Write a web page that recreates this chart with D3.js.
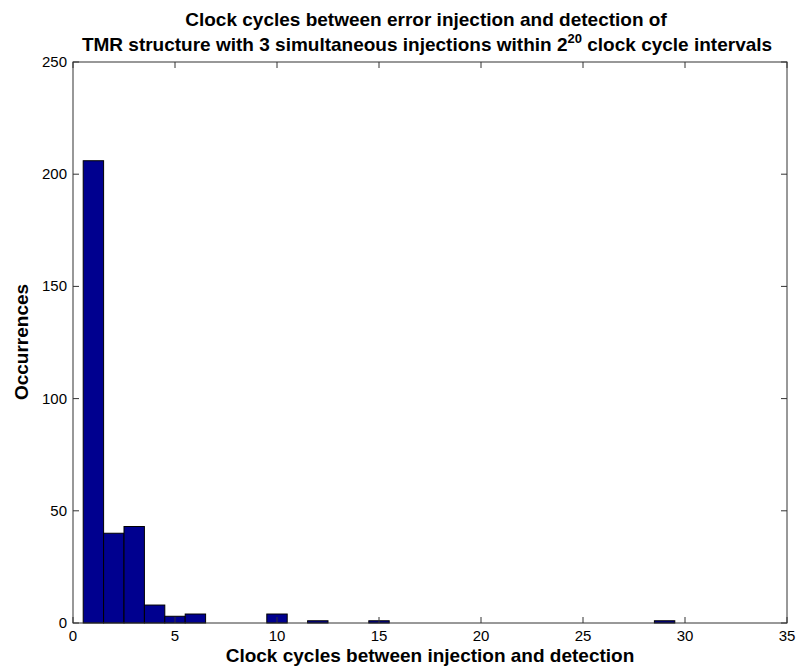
<!DOCTYPE html>
<html lang="en">
<head>
    <meta charset="UTF-8">
    <title>Clock cycles histogram</title>
    <script src="https://d3js.org/d3.v7.min.js" charset="utf-8"></script>
    <style>
        body {
            margin: 0;
            background: white;
            font-family: "Liberation Sans", Arial, sans-serif;
        }
    </style>
</head>
<body>
    <script>
        // histogram counts, one bin per clock cycle value
        var binCenters = [1, 2, 3, 4, 5, 6, 10, 12, 15, 29];
        var counts = [206, 40, 43, 8, 3, 4, 4, 1, 1, 1];
        var xTicks = [0, 5, 10, 15, 20, 25, 30, 35];
        var yTicks = [0, 50, 100, 150, 200, 250];

        var width = 797;
        var height = 671;
        // plot box edges (avoid the name "top", it is window.top)
        var plotL = 73, plotR = 787, plotT = 62, plotB = 623;
        var tickLen = 6;

        var svg = d3.select("body")
                    .append("svg")
                    .attr("width", width)
                    .attr("height", height);

        var x = d3.scaleLinear().domain([0, 35]).range([plotL, plotR]);
        var y = d3.scaleLinear().domain([0, 250]).range([plotB, plotT]);

        // bars
        svg.append("g")
            .selectAll("rect")
            .data(binCenters)
            .enter()
            .append("rect")
            .attr("x", function (d) { return x(d - 0.5); })
            .attr("width", function (d) { return x(d + 0.5) - x(d - 0.5); })
            .attr("y", function (d, i) { return y(counts[i]); })
            .attr("height", function (d, i) { return y(0) - y(counts[i]); })
            .attr("fill", "#00008f")
            .attr("stroke", "#000")
            .attr("stroke-width", 1);

        // axes box and inward ticks, drawn on top like matlab
        var ax = svg.append("g").attr("stroke", "#333").attr("stroke-width", 1);

        ax.append("rect")
            .attr("x", plotL).attr("y", plotT)
            .attr("width", plotR - plotL).attr("height", plotB - plotT)
            .attr("fill", "none");

        xTicks.forEach(function (t) {
            ax.append("line").attr("x1", x(t)).attr("x2", x(t))
                .attr("y1", plotB).attr("y2", plotB - tickLen);
            ax.append("line").attr("x1", x(t)).attr("x2", x(t))
                .attr("y1", plotT).attr("y2", plotT + tickLen);
        });
        yTicks.forEach(function (t) {
            ax.append("line").attr("x1", plotL).attr("x2", plotL + tickLen)
                .attr("y1", y(t)).attr("y2", y(t));
            ax.append("line").attr("x1", plotR).attr("x2", plotR - tickLen)
                .attr("y1", y(t)).attr("y2", y(t));
        });

        // tick labels
        svg.append("g")
            .selectAll("text")
            .data(xTicks)
            .enter()
            .append("text")
            .attr("x", function (d) { return x(d); })
            .attr("y", plotB + 18)
            .attr("text-anchor", "middle")
            .attr("font-size", "15px")
            .text(function (d) { return d; });

        svg.append("g")
            .selectAll("text")
            .data(yTicks)
            .enter()
            .append("text")
            .attr("x", plotL - 6)
            .attr("y", function (d) { return y(d) + 5; })
            .attr("text-anchor", "end")
            .attr("font-size", "15px")
            .text(function (d) { return d; });

        // axis labels
        svg.append("text")
            .attr("x", 430)
            .attr("y", 662)
            .attr("text-anchor", "middle")
            .attr("font-size", "19px")
            .attr("font-weight", "bold")
            .text("Clock cycles between injection and detection");

        svg.append("text")
            .attr("transform", "translate(28,342) rotate(-90)")
            .attr("text-anchor", "middle")
            .attr("font-size", "19px")
            .attr("font-weight", "bold")
            .text("Occurrences");

        // title
        var title = svg.append("text")
            .attr("text-anchor", "middle")
            .attr("font-size", "19px")
            .attr("font-weight", "bold");
        title.append("tspan")
            .attr("x", 426).attr("y", 26)
            .text("Clock cycles between error injection and detection of");
        title.append("tspan")
            .attr("x", 427).attr("y", 51)
            .text("TMR structure with 3 simultaneous injections within 2");
        title.append("tspan")
            .attr("dy", -8).attr("font-size", "13px")
            .text("20");
        title.append("tspan")
            .attr("dy", 8)
            .text(" clock cycle intervals");
    </script>
</body>
</html>
